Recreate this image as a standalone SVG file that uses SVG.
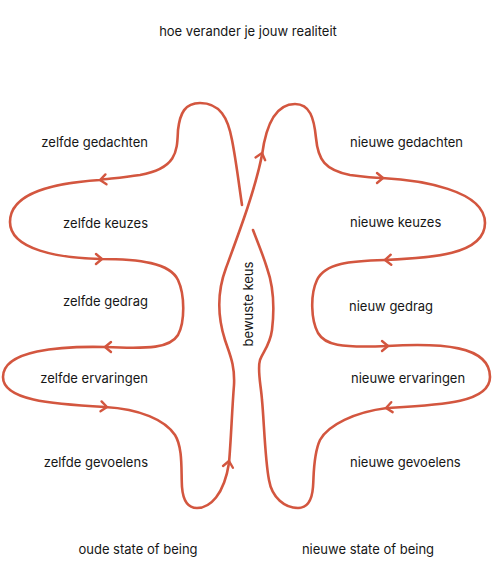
<svg xmlns="http://www.w3.org/2000/svg" width="501" height="580" viewBox="0 0 501 580">
<style>
  .lbl { font-family: Inter, "Noto Sans", "Liberation Sans", sans-serif; font-size: 13px; fill: #161616; }
  .flow { fill: none; stroke: #d3563f; stroke-width: 2.6; stroke-linecap: round; stroke-linejoin: round; }
  .chev { fill: none; stroke: #d3563f; stroke-width: 2.4; stroke-linecap: round; stroke-linejoin: round; }
</style>
<defs>
  <path id="chev" d="M6,-5 L0,0 L6,5"/>
</defs>
<rect width="501" height="580" fill="#ffffff"/>

<g id="connectors">
  <path class="flow" d="M242,205 C239,185 236,160 232,140 C228,118 220,103 200,103 C185,103 180,113 178,130 C177,150 178,168 140,175 C120,178 105,179 100,180
    C55,183 10,192 10,222 C10,250 60,258 100,259
    C140,259 170,263 178,280 C185,295 185,322 178,335 C170,348 150,349 105,347
    C60,346 3,350 3,377 C3,400 50,404 105,407
    C140,409 165,420 175,435 C183,448 181,470 182,487 C183,500 188,508 197,508 C210,508 224,495 229,463
    C231,440 232,410 234,385 C235,365 230,355 225,340 C218,318 217,292 226,268 C240,230 255,190 262,155
    C266,125 275,104 295,104 C310,104 314,118 316,138 C318,160 325,170 350,175 C365,177 375,178 382,178
    C420,180 485,190 485,223 C485,255 430,258 385,260
    C350,261 325,263 317,280 C310,295 311,320 318,333 C325,345 340,348 387,346
    C440,343 490,345 490,377 C490,403 440,405 387,408
    C355,412 328,425 320,440 C313,455 314,475 313,487 C312,500 308,508 298,508 C285,508 272,498 269,480
    C265,460 264,420 262,400 C261,385 257,370 260,360 C263,352 270,345 272,330 C275,305 273,285 267,268 C263,255 258,243 253,230"/>
  <use href="#chev" class="chev" transform="translate(100,180) rotate(-6)"/>
  <use href="#chev" class="chev" transform="translate(102,259) rotate(180)"/>
  <use href="#chev" class="chev" transform="translate(105,347)"/>
  <use href="#chev" class="chev" transform="translate(107,407) rotate(186)"/>
  <use href="#chev" class="chev" transform="translate(229,461) rotate(100)"/>
  <use href="#chev" class="chev" transform="translate(262,153) rotate(106)"/>
  <use href="#chev" class="chev" transform="translate(383,178) rotate(180)"/>
  <use href="#chev" class="chev" transform="translate(385,260) rotate(-3)"/>
  <use href="#chev" class="chev" transform="translate(388,346) rotate(180)"/>
  <use href="#chev" class="chev" transform="translate(386,408) rotate(-8)"/>
</g>

<g id="title"><text class="lbl" x="248" y="36" text-anchor="middle">hoe verander je jouw realiteit</text></g>

<g id="zelfde-gedachten"><text class="lbl" x="148" y="147" text-anchor="end">zelfde gedachten</text></g>
<g id="zelfde-keuzes"><text class="lbl" x="148" y="228" text-anchor="end">zelfde keuzes</text></g>
<g id="zelfde-gedrag"><text class="lbl" x="148" y="306" text-anchor="end">zelfde gedrag</text></g>
<g id="zelfde-ervaringen"><text class="lbl" x="148" y="383" text-anchor="end">zelfde ervaringen</text></g>
<g id="zelfde-gevoelens"><text class="lbl" x="148" y="467" text-anchor="end">zelfde gevoelens</text></g>

<g id="nieuwe-gedachten"><text class="lbl" x="350" y="147">nieuwe gedachten</text></g>
<g id="nieuwe-keuzes"><text class="lbl" x="350" y="227">nieuwe keuzes</text></g>
<g id="nieuw-gedrag"><text class="lbl" x="349" y="311">nieuw gedrag</text></g>
<g id="nieuwe-ervaringen"><text class="lbl" x="351" y="383">nieuwe ervaringen</text></g>
<g id="nieuwe-gevoelens"><text class="lbl" x="350" y="467">nieuwe gevoelens</text></g>

<g id="bewuste-keus"><text class="lbl" transform="translate(252.5,304) rotate(-90)" x="0" y="0" text-anchor="middle">bewuste keus</text></g>

<g id="oude-state"><text class="lbl" x="138" y="554" text-anchor="middle">oude state of being</text></g>
<g id="nieuwe-state"><text class="lbl" x="368" y="554" text-anchor="middle">nieuwe state of being</text></g>
</svg>
